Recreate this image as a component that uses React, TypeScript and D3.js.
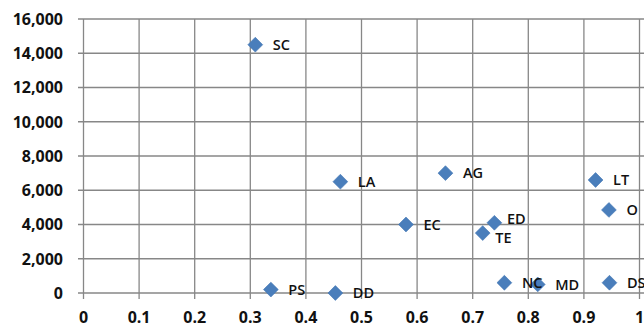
import React from "react";
import * as d3 from "d3";

// Category codes and their (ratio, count) coordinates
const codes = ["SC", "LA", "EC", "PS", "DD", "AG", "ED", "TE", "NC", "MD", "LT", "O", "DS"];
const ratios = [0.309, 0.462, 0.58, 0.337, 0.453, 0.651, 0.739, 0.718, 0.757, 0.817, 0.921, 0.945, 0.946];
const counts = [14500, 6500, 4000, 200, 0, 7000, 4100, 3500, 600, 500, 6600, 4850, 600];

const xTicks = [0, 0.1, 0.2, 0.3, 0.4, 0.5, 0.6, 0.7, 0.8, 0.9, 1];
const yTicks = [0, 2000, 4000, 6000, 8000, 10000, 12000, 14000, 16000];

const W = 644;
const H = 330;
const FONT = "'Open Sans', Lato, sans-serif";

// Hand-placed labels for the two overlapping points
const labelNudge: Record<string, [number, number]> = {
  ED: [-5, -4.5],
  TE: [-5, 5],
};

export default function App() {
  const x = d3.scaleLinear().domain([0, 1]).range([83.5, 639.5]);
  const y = d3.scaleLinear().domain([0, 16000]).range([293, 19]);
  const fmt = d3.format(",");
  const diamond = d3.symbol().type(d3.symbolDiamond2).size(140)();
  const grid = "#878787";

  const points = codes.map((c, i) => ({ code: c, x: ratios[i], y: counts[i] }));

  return (
    <svg
      width={W}
      height={H}
      style={{ position: "absolute", left: 0, top: 0, background: "#fff" }}
      fontFamily={FONT}
    >
      <rect width={W} height={H} fill="#fff" />
      {/* horizontal gridlines + y ticks */}
      {yTicks.map((t) => (
        <g key={"y" + t}>
          <line x1={78} x2={W} y1={y(t)} y2={y(t)} stroke={grid} strokeWidth={1.3} />
          <text
            x={63}
            y={y(t)}
            dy="0.36em"
            textAnchor="end"
            fontSize={16}
            fontWeight={700}
            fill="#111"
          >
            {fmt(t)}
          </text>
        </g>
      ))}
      {/* vertical gridlines + x ticks */}
      {xTicks.map((t) => (
        <g key={"x" + t}>
          <line x1={x(t)} x2={x(t)} y1={y(16000)} y2={299} stroke={grid} strokeWidth={1.3} />
          <text
            x={x(t)}
            y={317}
            dy="0.36em"
            textAnchor="middle"
            fontSize={16}
            fontWeight={700}
            fill="#111"
          >
            {String(t)}
          </text>
        </g>
      ))}
      {/* markers */}
      {points.map((p) => (
        <path
          key={"m" + p.code}
          d={diamond}
          transform={`translate(${x(p.x)},${y(p.y)})`}
          fill="#4a7ebb"
          stroke="#4275b3"
          strokeWidth={0.6}
        />
      ))}
      {/* data labels */}
      {points.map((p) => {
        const [nx, ny] = labelNudge[p.code] || [0, 0];
        return (
          <text
            key={"l" + p.code}
            x={x(p.x) + 17.5 + nx}
            y={y(p.y) + ny}
            dy="0.36em"
            fontSize={14.5}
            fontWeight={600}
            fill="#111"
          >
            {p.code}
          </text>
        );
      })}
    </svg>
  );
}
